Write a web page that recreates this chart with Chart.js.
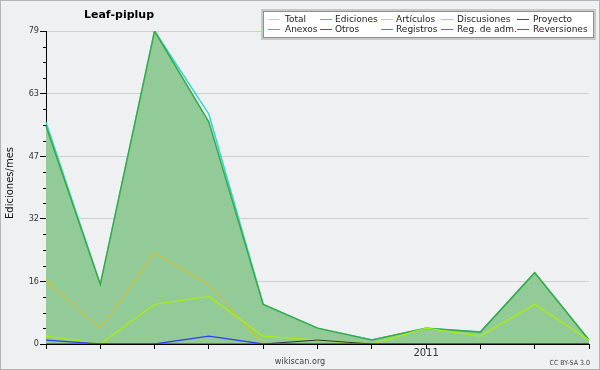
<!DOCTYPE html>
<html>
<head>
<meta charset="utf-8">
<script src="https://cdn.jsdelivr.net/npm/chart.js@4/dist/chart.umd.min.js"></script>
<style>
  html, body { margin: 0; padding: 0; background: #eff0f1; }
  canvas { display: block; }
</style>
</head>
<body>
<canvas id="chart" width="600" height="370"></canvas>
<script>
'use strict';

// months jun 2010 .. apr 2011
var months = ['2010-06', '2010-07', '2010-08', '2010-09', '2010-10', '2010-11',
  '2010-12', '2011-01', '2011-02', '2011-03', '2011-04'];
var total = [56, 15, 79, 58, 10, 4, 1, 4, 3, 18, 1];
var ediciones = [55, 15, 79, 56, 10, 4, 1, 4, 3, 18, 1];
var articulos = [2, 0, 10, 12, 2, 1, 0, 4, 2, 10, 1];
var discusiones = [16, 4, 23, 15, 0, 0, 0, 0, 0, 0, 0];
var registros = [1, 0, 0, 2, 0, 0, 0, 0, 0, 0, 0];
var proyecto = [0, 0, 0, 0, 0, 1, 0, 0, 0, 0, 0];

var yTicks = [0, 15.8, 31.6, 47.4, 63.2, 79];
var yearLabels = {'2011-01': '2011'};

var legendLabels = ['Total', 'Ediciones', 'Artículos', 'Discusiones', 'Proyecto',
  'Anexos', 'Otros', 'Registros', 'Reg. de adm.', 'Reversiones'];
var legendColors = ['#8ee6e6', '#5cc064', '#bce820', '#f8c020', '#505050',
  '#f07838', '#8c28e8', '#6070f8', '#d030f0', '#f02828'];

var COND = "'DejaVu Sans Condensed', 'DejaVu Sans', sans-serif";
var FONT = "'DejaVu Sans', sans-serif";

function line(label, data, color, width, order) {
  return {
    label: label,
    data: data,
    borderColor: color,
    borderWidth: width,
    pointRadius: 0,
    tension: 0,
    fill: false,
    order: order
  };
}

var datasets = [
  line('Total', total, '#2fd6d6', 1.5, 10),
  {
    label: 'Ediciones',
    data: ediciones,
    borderColor: '#38aa44',
    backgroundColor: '#93cb98',
    borderWidth: 1.5,
    pointRadius: 0,
    tension: 0,
    fill: 'origin',
    order: 9
  },
  line('Discusiones', discusiones, '#e8b810', 1, 5),
  line('Artículos', articulos, '#a8ee10', 1.3, 4),
  line('Proyecto', proyecto, '#303030', 1, 3),
  line('Registros', registros, '#3040ee', 1.3, 2)
];

// extra drawing: frame, title, legend box, small texts, minor ticks
var decor = {
  id: 'decor',
  beforeDraw: function(chart) {
    var ctx = chart.ctx;
    ctx.save();
    ctx.fillStyle = '#eff0f1';
    ctx.fillRect(0, 0, 600, 370);
    ctx.restore();
  },
  afterDraw: function(chart) {
    var ctx = chart.ctx;
    var y = chart.scales.y;
    ctx.save();

    // minor ticks
    ctx.strokeStyle = '#000';
    ctx.lineWidth = 1;
    for (var i = 0; i < yTicks.length - 1; i++) {
      var step = (yTicks[i + 1] - yTicks[i]) / 4;
      for (var k = 1; k < 4; k++) {
        var py = Math.round(y.getPixelForValue(yTicks[i] + step * k)) + 0.5;
        ctx.beginPath();
        ctx.moveTo(43, py);
        ctx.lineTo(46, py);
        ctx.stroke();
      }
    }

    // outer frame
    ctx.strokeStyle = '#b4b4b4';
    ctx.strokeRect(0.5, 0.5, 599, 369);

    // title
    ctx.fillStyle = '#000';
    ctx.font = 'bold 11px ' + FONT;
    ctx.textAlign = 'center';
    ctx.textBaseline = 'middle';
    ctx.fillText('Leaf-piplup', 119, 15);

    // y axis title
    ctx.save();
    ctx.translate(10, 183);
    ctx.rotate(-Math.PI / 2);
    ctx.font = '10px ' + FONT;
    ctx.fillStyle = '#111';
    ctx.fillText('Ediciones/mes', 0, 0);
    ctx.restore();

    // footer
    ctx.fillStyle = '#444';
    ctx.font = '9px ' + COND;
    ctx.fillText('wikiscan.org', 300, 362);
    ctx.font = '7px ' + COND;
    ctx.textAlign = 'right';
    ctx.fillText('CC BY-SA 3.0', 590, 363);

    // legend box
    ctx.fillStyle = '#ffffff';
    ctx.fillRect(263, 11, 331, 27);
    ctx.strokeStyle = '#c8c8c8';
    ctx.lineWidth = 3;
    ctx.strokeRect(262.5, 10.5, 332, 28);
    ctx.strokeStyle = '#909090';
    ctx.lineWidth = 1;
    ctx.strokeRect(263.5, 11.5, 330, 26);

    var colSwatch = [268, 320, 381, 441, 517];
    var colText = [285, 335, 396, 457, 533];
    var rows = [19.5, 29.5];
    ctx.font = '9px ' + FONT;
    ctx.textAlign = 'left';
    for (var n = 0; n < legendLabels.length; n++) {
      var c = n % 5;
      var r = Math.floor(n / 5);
      ctx.strokeStyle = legendColors[n];
      ctx.beginPath();
      ctx.moveTo(colSwatch[c], rows[r]);
      ctx.lineTo(colSwatch[c] + 12, rows[r]);
      ctx.stroke();
      ctx.fillStyle = '#222';
      ctx.fillText(legendLabels[n], colText[c], rows[r] + 0.5);
    }
    ctx.restore();
  }
};

new Chart(document.getElementById('chart').getContext('2d'), {
  type: 'line',
  data: { labels: months, datasets: datasets },
  plugins: [decor],
  options: {
    responsive: false,
    animation: false,
    layout: { padding: { left: 0, top: 31, right: 11, bottom: 0 } },
    plugins: {
      legend: { display: false },
      tooltip: { enabled: false }
    },
    scales: {
      x: {
        type: 'category',
        offset: false,
        afterFit: function(s) { s.height = 26; },
        border: { color: '#000', width: 1 },
        grid: {
          drawOnChartArea: false,
          drawTicks: true,
          tickLength: 5,
          tickColor: '#000'
        },
        ticks: {
          autoSkip: false,
          maxRotation: 0,
          padding: -2,
          color: '#333',
          font: { family: FONT, size: 10 },
          callback: function(v, i) { return yearLabels[months[i]] || ''; }
        }
      },
      y: {
        min: 0,
        max: 79,
        afterFit: function(s) { s.width = 46; },
        afterBuildTicks: function(s) {
          s.ticks = yTicks.map(function(v) { return { value: v }; });
        },
        border: { color: '#000', width: 1 },
        grid: {
          color: function(ctx) { return ctx.tick && ctx.tick.value === 0 ? 'rgba(0,0,0,0)' : '#cfcfcf'; },
          drawTicks: true,
          tickLength: 6,
          tickColor: '#000'
        },
        ticks: {
          padding: 1,
          color: '#333',
          font: { family: COND, size: 9 },
          callback: function(v) { return Math.round(v); }
        }
      }
    }
  }
});
</script>
</body>
</html>
